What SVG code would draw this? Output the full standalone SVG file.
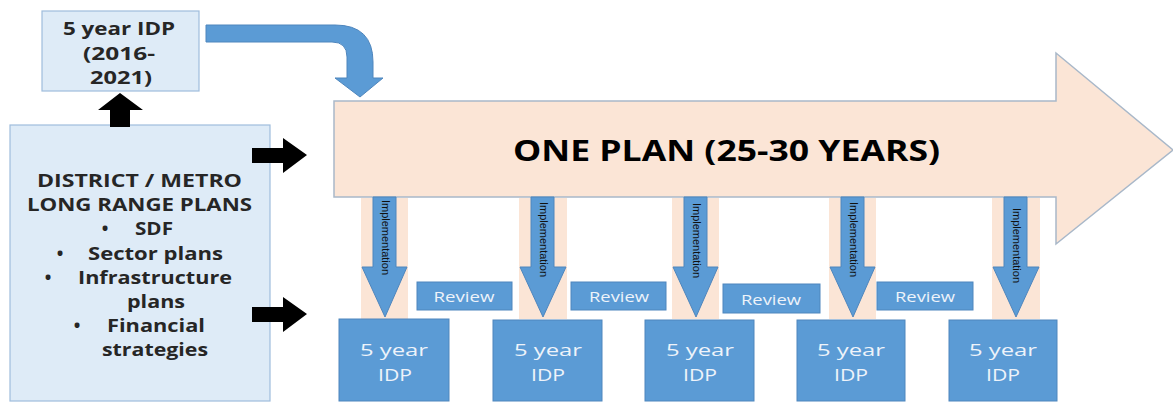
<svg xmlns="http://www.w3.org/2000/svg" width="1173" height="402" viewBox="0 0 1173 402">
<style>
.lb{fill:#deebf7;stroke:#9fbddc;stroke-width:1.2}
.blue{fill:#5b9bd5;stroke:#4f86bd;stroke-width:1}
.band{fill:#fbe5d6}
.big{fill:#fbe5d6;stroke:#a9b8c9;stroke-width:1.5}
.blk{fill:#000}
.t{font-family:"Open Sans","Liberation Sans",sans-serif;text-anchor:middle;dominant-baseline:central}
.bt{font-weight:bold;fill:#262626;font-size:17.5px}
.wt{fill:#eef3fa;font-size:17px}
.rv{fill:#eef3fa;font-size:14px}
.imp{font-family:"Liberation Sans Narrow","Liberation Sans",sans-serif;font-size:10px;fill:#111;dominant-baseline:central}
</style>
<g id="one-plan">
<path class="big" d="M334,101 L1056,101 L1056,53 L1173,150 L1056,244 L1056,197 L334,197 Z"/>
<text class="t" x="726.5" y="150" font-size="28" font-weight="bold" fill="#000" textLength="427" lengthAdjust="spacingAndGlyphs">ONE PLAN (25-30 YEARS)</text>
</g>
<g id="idp-2016">
<rect class="lb" x="42" y="11" width="157" height="80"/>
<text class="t bt" x="119" y="28" font-size="19" textLength="112" lengthAdjust="spacingAndGlyphs">5 year IDP</text>
<text class="t bt" x="119" y="53" font-size="19" textLength="72" lengthAdjust="spacingAndGlyphs">(2016-</text>
<text class="t bt" x="121" y="77" font-size="19" textLength="62" lengthAdjust="spacingAndGlyphs">2021)</text>
</g>
<g id="long-range">
<rect class="lb" x="10" y="125" width="260" height="276"/>
<text class="t bt" x="139.5" y="180" textLength="205" lengthAdjust="spacingAndGlyphs">DISTRICT / METRO</text>
<text class="t bt" x="139.5" y="204" textLength="225" lengthAdjust="spacingAndGlyphs">LONG RANGE PLANS</text>
<text class="t bt" x="105" y="228">•</text><text class="t bt" x="154" y="228" textLength="38" lengthAdjust="spacingAndGlyphs">SDF</text>
<text class="t bt" x="60" y="252.5">•</text><text class="t bt" x="155.5" y="252.5" textLength="135" lengthAdjust="spacingAndGlyphs">Sector plans</text>
<text class="t bt" x="48" y="276.5">•</text><text class="t bt" x="155" y="276.5" textLength="154" lengthAdjust="spacingAndGlyphs">Infrastructure</text>
<text class="t bt" x="156" y="300.5" textLength="58" lengthAdjust="spacingAndGlyphs">plans</text>
<text class="t bt" x="77" y="325">•</text><text class="t bt" x="156" y="325" textLength="98" lengthAdjust="spacingAndGlyphs">Financial</text>
<text class="t bt" x="155" y="349" textLength="106" lengthAdjust="spacingAndGlyphs">strategies</text>
</g>
<g id="connectors">
<path class="blue" d="M206,25 L335,25 Q373,25 373,62 L373,78 L383,78 L360,97 L335,78 L347,78 L347,57 Q347,42 332,42 L206,42 Z"/>
<path class="blk" d="M110,127 L110,110 L98,110 L120,93 L143,110 L130,110 L130,127 Z"/>
<path class="blk" d="M252,148 L283,148 L283,138 L307,155 L283,173 L283,163 L252,163 Z"/>
<path class="blk" d="M252,307 L283,307 L283,297 L307,314 L283,332 L283,322 L252,322 Z"/>
</g>
<g id="impl-1">
<rect class="band" x="361" y="198" width="47" height="121"/>
<path class="blue" d="M373,197 L396,197 L396,267 L407,267 L385,317 L362,267 L373,267 Z"/>
<text class="imp" transform="translate(385,200) rotate(90)" textLength="75" lengthAdjust="spacingAndGlyphs">Implementation</text>
</g>
<g id="impl-2">
<rect class="band" x="519" y="198" width="48" height="121"/>
<path class="blue" d="M531,197 L554,197 L554,267 L566,267 L543,317 L520,267 L531,267 Z"/>
<text class="imp" transform="translate(543,202) rotate(90)" textLength="75" lengthAdjust="spacingAndGlyphs">Implementation</text>
</g>
<g id="impl-3">
<rect class="band" x="672" y="198" width="47" height="121"/>
<path class="blue" d="M684,197 L707,197 L707,267 L718,267 L696,317 L673,267 L684,267 Z"/>
<text class="imp" transform="translate(696,203) rotate(90)" textLength="75" lengthAdjust="spacingAndGlyphs">Implementation</text>
</g>
<g id="impl-4">
<rect class="band" x="829" y="198" width="47" height="121"/>
<path class="blue" d="M841,197 L864,197 L864,267 L875,267 L853,317 L830,267 L841,267 Z"/>
<text class="imp" transform="translate(853,202) rotate(90)" textLength="75" lengthAdjust="spacingAndGlyphs">Implementation</text>
</g>
<g id="impl-5">
<rect class="band" x="992" y="198" width="48" height="121"/>
<path class="blue" d="M1004,197 L1027,197 L1027,267 L1039,267 L1016,317 L993,267 L1004,267 Z"/>
<text class="imp" transform="translate(1016,208) rotate(90)" textLength="75" lengthAdjust="spacingAndGlyphs">Implementation</text>
</g>
<g id="review-1"><rect class="blue" x="417" y="282" width="95" height="28"/><text class="t rv" x="464" y="296" textLength="61" lengthAdjust="spacingAndGlyphs">Review</text></g>
<g id="review-2"><rect class="blue" x="571" y="282" width="95" height="28"/><text class="t rv" x="619" y="296" textLength="60" lengthAdjust="spacingAndGlyphs">Review</text></g>
<g id="review-3"><rect class="blue" x="723" y="284" width="97" height="29"/><text class="t rv" x="771" y="299" textLength="60" lengthAdjust="spacingAndGlyphs">Review</text></g>
<g id="review-4"><rect class="blue" x="877" y="282" width="96" height="28"/><text class="t rv" x="925" y="296" textLength="60" lengthAdjust="spacingAndGlyphs">Review</text></g>
<g id="idp-1"><rect class="blue" x="339" y="319" width="110" height="82"/><text class="t wt" x="394" y="349" textLength="68" lengthAdjust="spacingAndGlyphs">5 year</text><text class="t wt" x="395" y="374" textLength="34" lengthAdjust="spacingAndGlyphs">IDP</text></g>
<g id="idp-2"><rect class="blue" x="493" y="320" width="109" height="81"/><text class="t wt" x="548" y="349" textLength="68" lengthAdjust="spacingAndGlyphs">5 year</text><text class="t wt" x="548" y="374" textLength="34" lengthAdjust="spacingAndGlyphs">IDP</text></g>
<g id="idp-3"><rect class="blue" x="645" y="320" width="109" height="81"/><text class="t wt" x="700" y="349" textLength="68" lengthAdjust="spacingAndGlyphs">5 year</text><text class="t wt" x="700" y="374" textLength="34" lengthAdjust="spacingAndGlyphs">IDP</text></g>
<g id="idp-4"><rect class="blue" x="797" y="320" width="108" height="81"/><text class="t wt" x="851" y="349" textLength="68" lengthAdjust="spacingAndGlyphs">5 year</text><text class="t wt" x="851" y="374" textLength="34" lengthAdjust="spacingAndGlyphs">IDP</text></g>
<g id="idp-5"><rect class="blue" x="949" y="320" width="108" height="81"/><text class="t wt" x="1003" y="349" textLength="68" lengthAdjust="spacingAndGlyphs">5 year</text><text class="t wt" x="1003" y="374" textLength="34" lengthAdjust="spacingAndGlyphs">IDP</text></g>
</svg>
